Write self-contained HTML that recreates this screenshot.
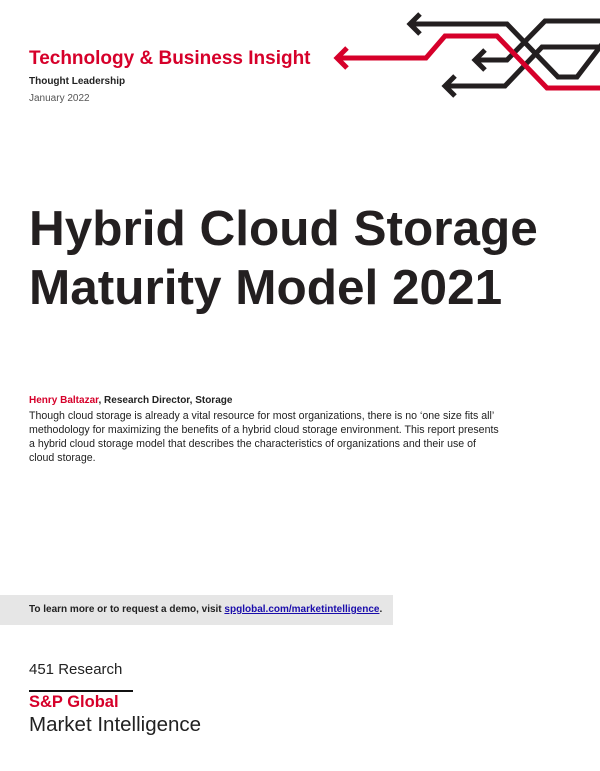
<!DOCTYPE html>
<html><head><meta charset="utf-8"><style>
body{margin:0;width:600px;height:771px;background:#fff;font-family:"Liberation Sans",sans-serif;position:relative;overflow:hidden}
.a{position:absolute;left:29px;white-space:nowrap}
</style></head><body>
<svg style="position:absolute;left:0;top:0" width="600" height="110" fill="none" stroke-width="5" stroke-linejoin="miter">
<g stroke="#231f20">
<path d="M603,43 L577,77 L558,77 L507,24 L410,24"/><path d="M420,14 L410,24 L420,34"/>
<path d="M603,21 L545,21 L507,60 L475,60"/><path d="M485,50 L475,60 L485,70"/>
<path d="M603,47 L542,47 L505,86 L445,86"/><path d="M455,76 L445,86 L455,96"/>
</g>
<g stroke="#d6002a">
<path d="M603,88 L547,88 L497,36 L445,36 L426,58 L337,58"/><path d="M347,48 L337,58 L347,68"/>
</g>
</svg>
<div class="a" style="top:48px;font-size:19px;font-weight:bold;color:#d6002a">Technology &amp; Business Insight</div>
<div class="a" style="top:76px;font-size:10px;font-weight:bold;color:#222">Thought Leadership</div>
<div class="a" style="top:93px;font-size:10px;color:#555">January 2022</div>
<div class="a" style="top:199px;font-size:49.5px;line-height:59px;font-weight:bold;color:#231f20">Hybrid Cloud Storage<br>Maturity Model 2021</div>
<div class="a" style="top:395px;font-size:10px;font-weight:bold;color:#222"><span style="color:#d6002a">Henry Baltazar</span>, Research Director, Storage</div>
<div class="a" style="top:409px;font-size:10.6px;line-height:14px;color:#222">Though cloud storage is already a vital resource for most organizations, there is no ‘one size fits all’<br>methodology for maximizing the benefits of a hybrid cloud storage environment. This report presents<br>a hybrid cloud storage model that describes the characteristics of organizations and their use of<br>cloud storage.</div>
<div style="position:absolute;left:0;top:595px;width:393px;height:30px;background:#e6e6e6"></div>
<div class="a" style="top:604px;font-size:10px;font-weight:bold;color:#222">To learn more or to request a demo, visit <span style="color:#1a0dab;text-decoration:underline">spglobal.com/marketintelligence</span>.</div>
<div class="a" style="top:661px;font-size:15px;color:#222">451 Research</div>
<div style="position:absolute;left:29px;top:690px;width:104px;height:2px;background:#111"></div>
<div class="a" style="top:693px;font-size:16.5px;font-weight:bold;color:#d6002a">S&amp;P Global</div>
<div class="a" style="top:713px;font-size:20.5px;color:#222">Market Intelligence</div>
</body></html>
